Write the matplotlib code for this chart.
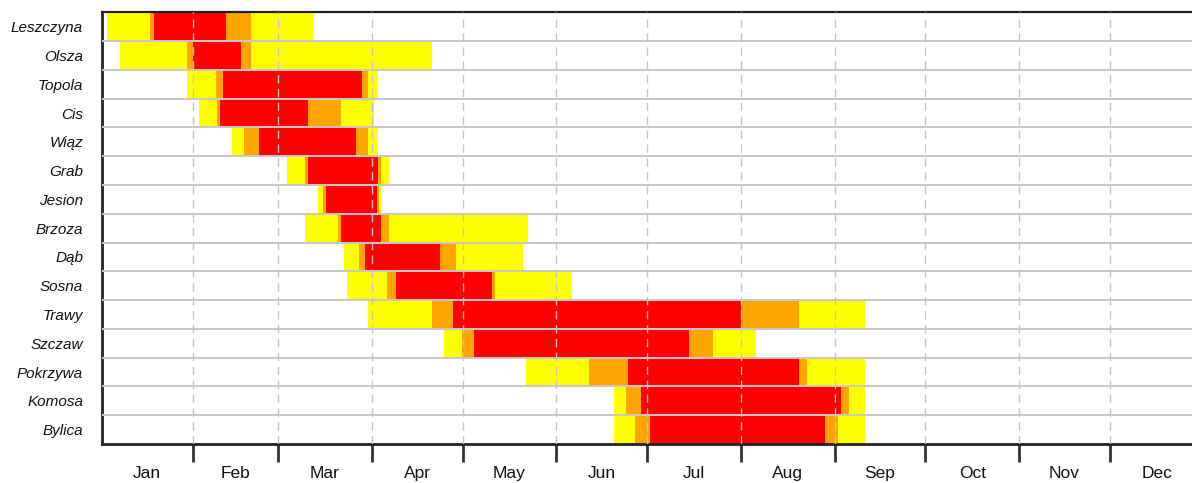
import numpy as np
import matplotlib.pyplot as plt

plt.rcParams['font.family'] = ['Liberation Sans', 'DejaVu Sans']

# pollen calendar: day of year (0 = 1 Jan) where each phase starts/ends
plants = ['Leszczyna', 'Olsza', 'Topola', 'Cis', 'Wiąz', 'Grab', 'Jesion', 'Brzoza',
          'Dąb', 'Sosna', 'Trawy', 'Szczaw', 'Pokrzywa', 'Komosa', 'Bylica']
season_start = [2.6, 6.7, 29.0, 32.9, 43.9, 62.0, 72.1, 67.8, 80.7, 81.9, 88.6, 114.0, 140.9, 170.1, 170.1]
rise_start   = [16.7, 28.8, 38.5, 38.7, 47.8, 67.9, 73.8, 78.9, 85.9, 95.0, 109.8, 119.9, 161.9, 173.9, 177.1]
peak_start   = [18.0, 31.0, 40.9, 40.0, 52.8, 68.8, 74.8, 79.8, 87.9, 97.9, 116.9, 123.9, 174.8, 179.1, 182.0]
peak_end     = [41.8, 46.8, 86.9, 68.8, 84.9, 92.2, 91.8, 93.0, 112.6, 129.7, 212.0, 194.9, 231.1, 245.0, 239.9]
fall_end     = [50.0, 50.1, 88.9, 79.8, 88.9, 93.0, 92.3, 95.8, 117.9, 130.8, 231.1, 202.9, 233.9, 247.8, 244.0]
season_end   = [70.9, 109.8, 91.9, 90.6, 91.9, 95.8, 92.9, 141.7, 139.9, 156.1, 253.1, 216.9, 253.1, 253.0, 253.0]

months = ['Jan', 'Feb', 'Mar', 'Apr', 'May', 'Jun', 'Jul', 'Aug', 'Sep', 'Oct', 'Nov', 'Dec']
month_days = [31, 28, 31, 30, 31, 30, 31, 31, 30, 31, 30, 31]

month_edges = np.concatenate([[0], np.cumsum(month_days)])
month_mids = (month_edges[:-1] + month_edges[1:]) / 2

fig = plt.figure(figsize=(11.92, 4.83), dpi=100)
ax = fig.add_axes([102.5 / 1192, 39 / 483, 1104.3 / 1192, 431.7 / 483])

y = np.arange(len(plants))
phases = [
    (season_start, rise_start, '#FFFF00'),
    (rise_start, peak_start, '#FFA500'),
    (peak_start, peak_end, '#FF0000'),
    (peak_end, fall_end, '#FFA500'),
    (fall_end, season_end, '#FFFF00'),
]
for lo, hi, col in phases:
    lo = np.array(lo)
    hi = np.array(hi)
    ax.barh(y, hi - lo, left=lo, height=1.0, color=col, linewidth=0, zorder=2)

# row separators and month gridlines on top of the bars
for b in np.arange(0.5, len(plants) - 0.5, 1.0):
    ax.axhline(b, color='#C8C8C8', lw=1.4, zorder=3)
for m in month_edges[1:-1]:
    ax.axvline(m, color='#C4C4C4', lw=1.0, ls=(0, (6, 4)), zorder=3)

ax.set_xlim(1, 366)
ax.set_ylim(len(plants) - 0.5, -0.5)

ax.set_yticks(y)
ax.set_yticklabels(plants, style='italic', fontsize=11, color='#111111')
ax.tick_params(axis='y', length=0, pad=14)

ax.set_xticks(month_edges[1:-1])
ax.set_xticklabels([])
ax.tick_params(axis='x', which='major', direction='out', length=13, width=2, color='#333333')
ax.set_xticks(month_mids, minor=True)
ax.set_xticklabels(months, minor=True, fontsize=12.5, color='#111111')
ax.tick_params(axis='x', which='minor', length=0, pad=16)

for side in ['left', 'bottom']:
    ax.spines[side].set_linewidth(2)
    ax.spines[side].set_color('#222222')
ax.spines['top'].set_linewidth(1.6)
ax.spines['top'].set_color('#222222')
ax.spines['right'].set_visible(False)

fig.savefig('out.png', dpi=100)
